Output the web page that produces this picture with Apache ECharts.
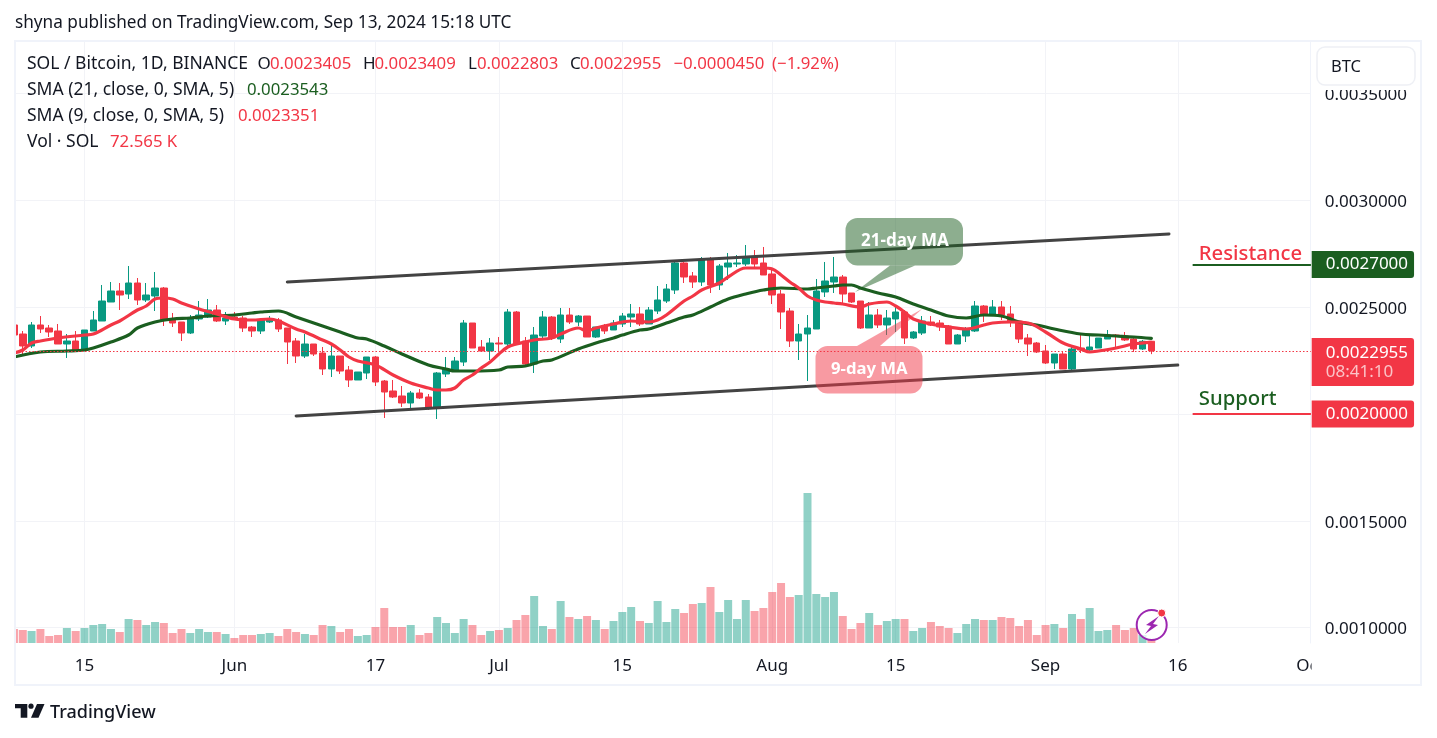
<!DOCTYPE html>
<html><head><meta charset="utf-8"><title>SOL / Bitcoin</title>
<style>html,body{margin:0;padding:0;background:#fff}#c{width:1437px;height:738px}</style>
<script src="https://cdn.jsdelivr.net/npm/echarts@6/dist/echarts.min.js"></script></head>
<body><div id="c"></div>
<script>
const firstDay = '2024-05-07';
const opens = [0.0024167,0.0023745,0.0023184,0.0024167,0.0024026,0.0023886,0.0023277,0.0023418,0.0022996,0.0023886,
0.0024354,0.0025243,0.0025759,0.0025618,0.0026133,0.0025337,0.0025524,0.0025899,0.0024448,0.0024307,
0.0023792,0.0024448,0.0024541,0.0024869,0.0024354,0.0024541,0.0024494,0.0024073,0.0023886,0.0024307,
0.0024401,0.0024026,0.0023418,0.0022715,0.0023277,0.0022856,0.0022107,0.0022715,0.0022060,0.0021592,
0.0021919,0.0022669,0.0021545,0.0021077,0.0020843,0.0020515,0.0020983,0.0020796,0.0020281,0.0021873,
0.0022013,0.0022434,0.0024260,0.0023137,0.0022950,0.0023324,0.0023277,0.0024775,0.0023418,0.0022341,
0.0023652,0.0024541,0.0023511,0.0024635,0.0024307,0.0024588,0.0023605,0.0024120,0.0023933,0.0024214,
0.0024541,0.0024682,0.0024214,0.0024822,0.0025290,0.0025805,0.0027070,0.0026461,0.0026180,0.0027210,
0.0026040,0.0026882,0.0027023,0.0027023,0.0027351,0.0027070,0.0026555,0.0025618,0.0024822,0.0023418,
0.0023745,0.0023979,0.0025712,0.0026180,0.0026414,0.0025665,0.0025290,0.0024026,0.0024635,0.0024167,
0.0024448,0.0024775,0.0023558,0.0023792,0.0024307,0.0024260,0.0024120,0.0023277,0.0023652,0.0023886,
0.0025056,0.0024682,0.0025010,0.0024682,0.0024354,0.0023558,0.0023324,0.0022950,0.0022388,0.0022809,
0.0022107,0.0023090,0.0022996,0.0023090,0.0023511,0.0023698,0.0023652,0.0023511,0.0023043,0.0023405];
const closes = [0.0023698,0.0023184,0.0024167,0.0023979,0.0023839,0.0023277,0.0023418,0.0022996,0.0023933,0.0024401,
0.0025290,0.0025759,0.0025571,0.0026133,0.0025337,0.0025571,0.0025899,0.0024401,0.0024260,0.0023792,
0.0024494,0.0024635,0.0024869,0.0024354,0.0024494,0.0024448,0.0024026,0.0023886,0.0024401,0.0024448,
0.0023979,0.0023371,0.0022715,0.0023277,0.0022809,0.0022107,0.0022715,0.0022013,0.0021592,0.0021966,
0.0022669,0.0021498,0.0021030,0.0020796,0.0020515,0.0020983,0.0020749,0.0020281,0.0021919,0.0022107,
0.0022481,0.0024260,0.0023090,0.0022950,0.0023324,0.0023277,0.0024775,0.0023277,0.0022341,0.0023698,
0.0024541,0.0023558,0.0024635,0.0024307,0.0024588,0.0023605,0.0024073,0.0023886,0.0024260,0.0024588,
0.0024682,0.0024214,0.0024869,0.0025337,0.0025852,0.0027070,0.0026414,0.0026180,0.0027210,0.0026040,
0.0026929,0.0027070,0.0027070,0.0027351,0.0027023,0.0026508,0.0025571,0.0024775,0.0023418,0.0023745,
0.0024026,0.0025759,0.0026227,0.0026414,0.0025618,0.0025243,0.0024026,0.0024635,0.0024167,0.0024494,
0.0024775,0.0023558,0.0023839,0.0024354,0.0024167,0.0024073,0.0023277,0.0023698,0.0023933,0.0025056,
0.0024682,0.0025010,0.0024635,0.0024307,0.0023511,0.0023277,0.0022903,0.0022388,0.0022809,0.0022107,
0.0023043,0.0022996,0.0023137,0.0023558,0.0023698,0.0023652,0.0023464,0.0023043,0.0023405,0.0022955];
const highs = [0.0024260,0.0023886,0.0024307,0.0024588,0.0024167,0.0024214,0.0023745,0.0023886,0.0023933,0.0024822,
0.0026040,0.0026180,0.0026133,0.0026929,0.0026367,0.0026133,0.0026648,0.0025946,0.0024729,0.0024307,
0.0024635,0.0025290,0.0025384,0.0025103,0.0024775,0.0024775,0.0024588,0.0024120,0.0024448,0.0024588,
0.0024494,0.0024026,0.0023558,0.0023745,0.0023277,0.0023137,0.0023230,0.0022715,0.0022247,0.0021966,
0.0022669,0.0022715,0.0021592,0.0021592,0.0021311,0.0021077,0.0021170,0.0020936,0.0021966,0.0022669,
0.0022669,0.0024401,0.0024260,0.0023464,0.0023558,0.0023605,0.0024916,0.0024822,0.0023605,0.0024073,
0.0024822,0.0024588,0.0024963,0.0024963,0.0024635,0.0024588,0.0024073,0.0024214,0.0024401,0.0024729,
0.0025150,0.0025010,0.0025010,0.0025993,0.0026086,0.0027163,0.0027117,0.0026648,0.0027351,0.0027351,
0.0027023,0.0027538,0.0027444,0.0027913,0.0027678,0.0027819,0.0026742,0.0025805,0.0024963,0.0024214,
0.0024635,0.0026320,0.0027117,0.0027351,0.0026508,0.0025665,0.0025290,0.0025243,0.0024916,0.0024869,
0.0025103,0.0024869,0.0023886,0.0024588,0.0024588,0.0024401,0.0024167,0.0023745,0.0024073,0.0025290,
0.0025103,0.0025337,0.0025290,0.0025056,0.0024354,0.0023745,0.0023371,0.0023230,0.0022809,0.0022950,
0.0023184,0.0023698,0.0023698,0.0023558,0.0023933,0.0023745,0.0023839,0.0023652,0.0023464,0.0023409];
const lows = [0.0023605,0.0022762,0.0023090,0.0023792,0.0023605,0.0023277,0.0022622,0.0022950,0.0022950,0.0023886,
0.0024354,0.0025243,0.0024869,0.0025384,0.0025103,0.0025243,0.0024822,0.0024120,0.0024073,0.0023418,
0.0023745,0.0024354,0.0024494,0.0024307,0.0024167,0.0024401,0.0023839,0.0023605,0.0023745,0.0024260,
0.0023839,0.0022341,0.0022388,0.0022622,0.0022715,0.0021826,0.0021732,0.0021873,0.0021264,0.0021592,
0.0021638,0.0021311,0.0019813,0.0020749,0.0020328,0.0020187,0.0020702,0.0020187,0.0019766,0.0021732,
0.0022013,0.0022247,0.0023090,0.0022903,0.0022528,0.0022903,0.0023184,0.0023230,0.0022247,0.0021919,
0.0023558,0.0023464,0.0023324,0.0024214,0.0024120,0.0023605,0.0023558,0.0023745,0.0023933,0.0024073,
0.0024073,0.0024120,0.0024214,0.0024682,0.0025197,0.0025618,0.0026133,0.0025899,0.0025993,0.0025665,
0.0025805,0.0026274,0.0026882,0.0026929,0.0026882,0.0026508,0.0025150,0.0023979,0.0023137,0.0022528,
0.0021545,0.0023979,0.0025478,0.0025665,0.0025150,0.0025197,0.0023979,0.0024026,0.0024026,0.0023698,
0.0023839,0.0023277,0.0023511,0.0023698,0.0024120,0.0023886,0.0023277,0.0023277,0.0023371,0.0023839,
0.0024307,0.0024588,0.0024401,0.0024073,0.0023324,0.0022715,0.0022856,0.0022341,0.0022107,0.0022107,
0.0021966,0.0022856,0.0022903,0.0023090,0.0023511,0.0023137,0.0023418,0.0022903,0.0022996,0.0022803];
const volumesK = [336,312,288,336,168,192,360,288,360,432,
456,336,264,576,552,432,504,480,240,336,
240,336,264,264,216,120,192,192,216,240,
168,336,264,216,192,432,408,264,336,168,
192,384,840,384,384,432,192,240,624,480,
240,576,432,192,288,312,360,552,672,1128,
408,336,1008,624,576,648,552,336,528,744,
864,528,480,1008,504,816,720,936,960,1344,
744,1032,576,1032,768,840,1224,1440,1104,1152,
3600,1176,1104,1224,648,336,480,720,432,528,
576,576,288,360,504,408,360,240,456,576,
552,552,624,600,408,552,192,432,456,360,
696,576,840,288,312,432,312,360,192,72.565];
const sma9Dates = ['05-07','05-08','05-09','05-10','05-12','05-15','05-16','05-18','05-19','05-21','05-22','05-23','05-24','05-25','05-26','05-28','05-30','06-01','06-03','06-05','06-06','06-08','06-09','06-11','06-12','06-13','06-14','06-15','06-17','06-19','06-21','06-23','06-24','06-25','06-26','06-27','06-28','06-29','06-30','07-01','07-02','07-03','07-04','07-05','07-07','07-08','07-10','07-11','07-12','07-14','07-16','07-18','07-19','07-20','07-22','07-23','07-24','07-26','07-27','07-29','07-31','08-01','08-02','08-03','08-04','08-05','08-06','08-07','08-08','08-09','08-11','08-12','08-14','08-15','08-16','08-17','08-19','08-21','08-23','08-25','08-26','08-28','08-30','09-01','09-03','09-05','09-06','09-07','09-09','09-11','09-13'];
const sma9Values = [0.0022856,0.0022996,0.0023324,0.0023418,0.0023558,0.0023698,0.0023745,0.0024167,0.0024354,0.0024869,0.0025056,0.0025384,0.0025431,0.0025384,0.0025197,0.0024916,0.0024682,0.0024448,0.0024401,0.0024448,0.0024354,0.0023979,0.0023839,0.0023464,0.0023277,0.0022996,0.0022669,0.0022481,0.0022294,0.0021826,0.0021451,0.0021217,0.0021123,0.0021123,0.0021217,0.0021592,0.0021826,0.0022154,0.0022434,0.0022809,0.0023137,0.0023277,0.0023371,0.0023464,0.0023558,0.0023745,0.0024026,0.0023886,0.0024026,0.0024214,0.0024354,0.0024307,0.0024401,0.0024635,0.0025290,0.0025524,0.0025805,0.0026133,0.0026414,0.0026836,0.0026836,0.0026789,0.0026508,0.0026180,0.0025899,0.0025524,0.0025337,0.0025243,0.0025197,0.0025150,0.0025010,0.0025150,0.0025243,0.0025056,0.0024775,0.0024448,0.0024214,0.0024073,0.0023979,0.0024167,0.0024260,0.0024307,0.0024260,0.0023839,0.0023324,0.0023043,0.0022903,0.0022950,0.0023090,0.0023277,0.0023351];
const sma21Dates = ['05-07','05-10','05-13','05-15','05-16','05-18','05-20','05-21','05-23','05-25','05-27','05-29','06-01','06-03','06-04','06-06','06-08','06-11','06-13','06-15','06-16','06-18','06-20','06-23','06-25','06-26','06-28','07-01','07-02','07-04','07-06','07-07','07-10','07-12','07-14','07-15','07-17','07-18','07-20','07-22','07-23','07-25','07-27','07-29','07-31','08-02','08-05','08-06','08-08','08-09','08-10','08-11','08-13','08-15','08-17','08-19','08-21','08-23','08-25','08-27','08-29','08-31','09-02','09-05','09-07','09-09','09-11','09-13'];
const sma21Values = [0.0022669,0.0022903,0.0022950,0.0022996,0.0023090,0.0023371,0.0023698,0.0024026,0.0024307,0.0024448,0.0024494,0.0024588,0.0024635,0.0024729,0.0024775,0.0024822,0.0024541,0.0024120,0.0023839,0.0023558,0.0023511,0.0023184,0.0022809,0.0022294,0.0022107,0.0022013,0.0022013,0.0022060,0.0022200,0.0022247,0.0022481,0.0022528,0.0023043,0.0023324,0.0023558,0.0023698,0.0023933,0.0023979,0.0024260,0.0024541,0.0024635,0.0025010,0.0025384,0.0025618,0.0025805,0.0025899,0.0025852,0.0025899,0.0025993,0.0026040,0.0026040,0.0025899,0.0025665,0.0025478,0.0025150,0.0024869,0.0024588,0.0024494,0.0024635,0.0024588,0.0024307,0.0024167,0.0023979,0.0023745,0.0023698,0.0023652,0.0023605,0.0023543];
const upperTrendDates = ['06-07','09-15'];
const upperTrendValues = [0.002618,0.002843];
const lowerTrendDates = ['06-08','09-16'];
const lowerTrendValues = [0.001991,0.002229];
const priceTicks = [0.0010,0.0015,0.0020,0.0025,0.0030,0.0035];
const timeTickDates = ['05-15','06-01','06-17','07-01','07-15','08-01','08-15','09-01','09-16','10-01'];
const timeTickLabels = ['15','Jun','17','Jul','15','Aug','15','Sep','16','Oct'];
const resistanceLevel = 0.0027, supportLevel = 0.0020, lastPrice = 0.0022955;

const FONT = '"Noto Sans"', INK = '#131722', RED = '#f23645', UP = '#089981', SMA21 = '#1b5e20', GRID = '#f2f3f7';
const DAY = 864e5;
const dayZero = Date.parse(firstDay + 'T00:00:00Z');
const ts = md => (Date.parse('2024-' + md + 'T00:00:00Z') - dayZero) / DAY;
const dayTs = opens.map((_, i) => i);
const pairs = (d, v) => d.map((x, i) => [ts(x), v[i]]);
const xMin = ts('05-15') - 7.8825, xMax = xMin + 146.954;
const levelStart = ts('09-17') + 0.7;
const tickLabelMap = {}; timeTickDates.forEach((d, i) => tickLabelMap[ts(d)] = timeTickLabels[i]);

const lineS = (name, data, color, width, smooth, z) => ({name, type:'line', data, showSymbol:false, symbol:'none', smooth, z,
  lineStyle:{color, width, cap:'round', join:'round'}, silent:true, animation:false});
const tag = (fill, text) => ({show:true, position:'end', distance:1, formatter:text, color:'#fff', fontFamily:FONT, fontSize:17,
  backgroundColor:fill, borderRadius:[0,3,3,0], padding:[7,6,5,14], lineHeight:15, align:'left'});

const series = [
 {name:'Vol', type:'bar', yAxisIndex:1, barWidth:8, z:1, animation:false, silent:true, clip:true,
  data:dayTs.map((t,i)=>[t,volumesK[i]]),
  itemStyle:{color:p=>closes[p.dataIndex]>=opens[p.dataIndex]?'rgba(8,153,129,0.45)':'rgba(242,54,69,0.45)'}},
 {name:'SOL / Bitcoin', type:'candlestick', barWidth:7, z:3, animation:false, silent:true,
  data:dayTs.map((t,i)=>[t,opens[i],closes[i],lows[i],highs[i]]),
  encode:{x:0,y:[1,2,3,4]},
  itemStyle:{color:UP,color0:RED,borderColor:UP,borderColor0:RED,borderWidth:1}},
 lineS('SMA 21', pairs(sma21Dates,sma21Values), SMA21, 3.2, 0.35, 4),
 lineS('SMA 9', pairs(sma9Dates,sma9Values), RED, 3.2, 0.35, 5),
 lineS('Upper channel', pairs(upperTrendDates,upperTrendValues), '#434343', 3, false, 6),
 lineS('Lower channel', pairs(lowerTrendDates,lowerTrendValues), '#434343', 3, false, 6),
 {name:'Levels', type:'line', data:[], clip:false, z:7, silent:true, animation:false,
  markLine:{silent:true, symbol:'none', animation:false, precision:7, data:[
    [{coord:[xMin,lastPrice], lineStyle:{color:RED,width:1.2,type:[1.5,2]}, label:{show:true, position:'end', distance:1, color:'#fff',
        formatter:'{a|0.0022955}\n{b|08:41:10}', backgroundColor:RED, borderRadius:[0,3,3,0], padding:[6,6,4,14], offset:[0,11],
        rich:{a:{color:'#fff',fontFamily:FONT,fontSize:17,lineHeight:19},b:{color:'#fbc3c7',fontFamily:FONT,fontSize:17,lineHeight:19}}}},
     {coord:[xMax,lastPrice]}],
    [{coord:[levelStart,resistanceLevel], lineStyle:{color:SMA21,width:2,type:'solid'},
      label:{show:true, position:'insideStartTop', distance:1, formatter:'Resistance', color:RED, fontFamily:FONT, fontSize:20.3, fontWeight:500, offset:[5,1]}},
     {coord:[xMax,resistanceLevel]}],
    [{coord:[levelStart,resistanceLevel], lineStyle:{color:SMA21,width:2,type:'solid'}, label:tag(SMA21,'0.0027000')},
     {coord:[xMax,resistanceLevel]}],
    [{coord:[levelStart,supportLevel], lineStyle:{color:RED,width:2,type:'solid'},
      label:{show:true, position:'insideStartTop', distance:1, formatter:'Support', color:SMA21, fontFamily:FONT, fontSize:20.3, fontWeight:500, offset:[5,-4]}},
     {coord:[xMax,supportLevel]}],
    [{coord:[levelStart,supportLevel], lineStyle:{color:RED,width:2,type:'solid'}, label:tag(RED,'0.0020000')},
     {coord:[xMax,supportLevel]}]
  ]}}
];

const txt = (x,y,text,fill,size,weight) => ({type:'text', z:120, silent:true,
  style:{x,y:y+1,text,fill:fill||INK,font:(weight||'normal')+' '+(size||17)+'px '+FONT,verticalAlign:'middle',align:'left'}});
const graphic = [
 {type:'rect', z:39, silent:true, shape:{x:0,y:41,width:15,height:644}, style:{fill:'#fff'}},
 {type:'rect', z:40, silent:true, shape:{x:15,y:41,width:1406,height:644}, style:{fill:'none',stroke:'#f0f3fa',lineWidth:2}},
 {type:'rect', z:50, silent:true, shape:{x:1312,y:80,width:108,height:10}, style:{fill:'#fff'}},
 {type:'rect', z:50, silent:true, shape:{x:1311.5,y:648,width:108,height:34}, style:{fill:'#fff'}},
 {type:'rect', z:60, silent:true, shape:{x:1317,y:47,width:98,height:38,r:8}, style:{fill:'#fff',stroke:'#eef0f5',lineWidth:1.5}},
 txt(1331,66,'BTC',INK,16.5),
 txt(15,22,'shyna published on TradingView.com, Sep 13, 2024 15:18 UTC',INK,17.2),
 txt(27,63,'SOL / Bitcoin, 1D, BINANCE',INK,17.5),
 txt(257.5,63,'O'), txt(270,63,'0.0023405',RED,16.8),
 txt(363,63,'H'), txt(374.5,63,'0.0023409',RED,16.8),
 txt(468,63,'L'), txt(477,63,'0.0022803',RED,16.8),
 txt(570,63,'C'), txt(580,63,'0.0022955',RED,16.8),
 txt(673.5,63,'−0.0000450',RED,16.8), txt(772,63,'(−1.92%)',RED,16.8),
 txt(27,89,'SMA (21, close, 0, SMA, 5)',INK,17.5), txt(247,89,'0.0023543',SMA21,16.8),
 txt(27,115,'SMA (9, close, 0, SMA, 5)',INK,17.5), txt(238,115,'0.0023351',RED,16.8),
 txt(27,141,'Vol · SOL',INK,17.5), txt(110,141,'72.565 K',RED,16.8),
 // callouts
 {type:'polygon', z:100, silent:true, shape:{points:[[890,265.5],[915,265.5],[855,292]]}, style:{fill:'rgba(27,94,32,0.5)'}},
 {type:'rect', z:100, silent:true, shape:{x:845.5,y:218,width:117.5,height:47.5,r:12}, style:{fill:'rgba(27,94,32,0.5)'}},
 txt(861,240.5,'21-day MA','#fff',17,'bold'),
 {type:'polygon', z:100, silent:true, shape:{points:[[857,346],[880,346],[922,309]]}, style:{fill:'rgba(242,54,69,0.5)'}},
 {type:'rect', z:100, silent:true, shape:{x:815.5,y:346,width:107,height:47.5,r:12}, style:{fill:'rgba(242,54,69,0.5)'}},
 txt(831,368.5,'9-day MA','#fff',16.7,'bold'),
 // lightning badge
 {type:'circle', z:110, silent:true, shape:{cx:1151.7,cy:625,r:15}, style:{fill:'rgba(255,255,255,0.75)',stroke:'#9c27b0',lineWidth:2}},
 {type:'polygon', z:111, silent:true, shape:{points:[[1159,616],[1146,625],[1151,626],[1145,634],[1158,625],[1153,624]]}, style:{fill:'#9c27b0'}},
 {type:'circle', z:112, silent:true, shape:{cx:1161.7,cy:613,r:4}, style:{fill:RED,stroke:'#fff',lineWidth:1}},
 // logo
 {type:'polygon', z:110, silent:true, shape:{points:[[15,704],[27.3,704],[27.3,717.7],[20.7,717.7],[20.7,708.3],[15,708.3]]}, style:{fill:INK}},
 {type:'circle', z:110, silent:true, shape:{cx:31,cy:706.2,r:2.6}, style:{fill:INK}},
 {type:'polygon', z:110, silent:true, shape:{points:[[37,704],[44.5,704],[38.5,717.7],[31,717.7]]}, style:{fill:INK}},
 txt(50,711.5,'TradingView',INK,18,'500')
];

const chart = echarts.init(document.getElementById('c'), null, {renderer:'canvas'});
chart.setOption({
 animation:false, backgroundColor:'#fff',
 textStyle:{fontFamily:FONT},
 grid:{left:15, top:41, width:1295.7, height:602, containLabel:false},
 xAxis:{type:'value', min:xMin, max:xMax, scale:true,
   axisLine:{show:false}, axisTick:{show:false, customValues:timeTickDates.map(ts)},
   splitLine:{show:true, lineStyle:{color:GRID,width:1}},
   axisLabel:{show:true, customValues:timeTickDates.map(ts), margin:15, color:INK, fontFamily:FONT, fontSize:17,
     hideOverlap:false, formatter:v=>tickLabelMap[v]||''}},
 yAxis:[
  {type:'value', position:'right', min:0.0009279, max:0.0037463, scale:true,
   axisLine:{show:true, lineStyle:{color:'#f0f3fa'}}, axisTick:{show:false, customValues:priceTicks},
   splitLine:{show:true, lineStyle:{color:GRID,width:1}},
   axisLabel:{customValues:priceTicks, margin:14, color:INK, fontFamily:FONT, fontSize:17,
     formatter:v=>'{p|'+v.toFixed(7)+'}',
     rich:{p:{color:INK,fontFamily:FONT,fontSize:17,padding:[4,0,0,0]}}}},
  {type:'value', show:false, min:0, max:14448, splitLine:{show:false}}
 ],
 series, graphic
});
</script></body></html>
